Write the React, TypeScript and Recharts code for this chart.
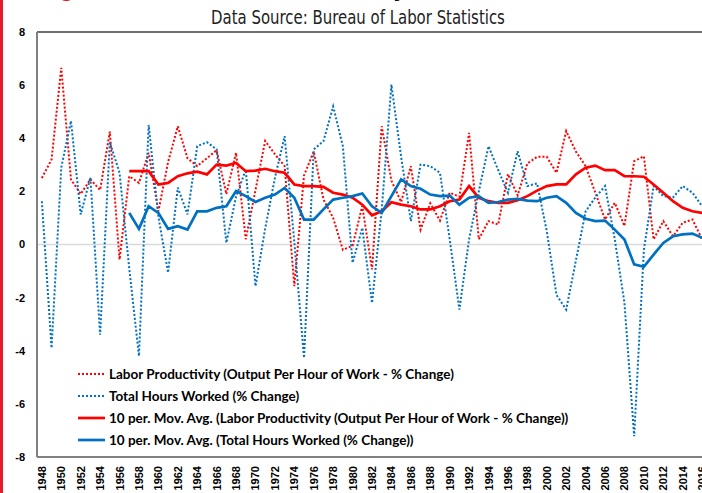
import React from 'react';
import { LineChart, Line, XAxis, YAxis, ReferenceLine, Legend } from 'recharts';

const years = [
  1948, 1949, 1950, 1951, 1952, 1953, 1954, 1955, 1956, 1957,
  1958, 1959, 1960, 1961, 1962, 1963, 1964, 1965, 1966, 1967,
  1968, 1969, 1970, 1971, 1972, 1973, 1974, 1975, 1976, 1977,
  1978, 1979, 1980, 1981, 1982, 1983, 1984, 1985, 1986, 1987,
  1988, 1989, 1990, 1991, 1992, 1993, 1994, 1995, 1996, 1997,
  1998, 1999, 2000, 2001, 2002, 2003, 2004, 2005, 2006, 2007,
  2008, 2009, 2010, 2011, 2012, 2013, 2014, 2015, 2016,
];

const laborProductivity = [
  2.5, 3.2, 6.65, 2.45, 1.9, 2.45, 2.05, 4.25, -0.57, 2.57,
  2.32, 3.45, 1.25, 3.1, 4.45, 3.25, 2.95, 3.25, 3.55, 1.9,
  3.45, 0.2, 2.05, 3.9, 3.4, 2.95, -1.57, 2.6, 3.5, 1.7,
  1.0, -0.2, -0.05, 1.45, -0.94, 4.45, 2.4, 1.6, 2.95, 0.56,
  1.55, 0.9, 1.95, 1.8, 4.2, 0.2, 0.88, 0.75, 2.65, 1.85,
  3.05, 3.3, 3.3, 2.7, 4.27, 3.5, 2.95, 1.95, 0.94, 1.57,
  0.7, 3.14, 3.32, 0.19, 0.88, 0.31, 0.82, 0.94, 0.2,
];

const totalHours = [
  1.63, -3.9, 2.9, 4.65, 1.13, 2.52, -3.4, 3.85, 2.7, -0.9,
  -4.2, 4.5, 1.05, -1.06, 2.14, 1.13, 3.7, 3.85, 3.58, 0.06,
  1.8, 2.82, -1.57, 0.6, 2.5, 4.08, 0.1, -4.27, 3.58, 3.89,
  5.2, 3.7, -0.69, 0.63, -2.2, 1.3, 6.02, 3.3, 0.88, 3.01,
  2.95, 2.7, 0.2, -2.45, 0.2, 2.0, 3.7, 2.8, 1.95, 3.51,
  2.2, 2.3, 0.5, -1.9, -2.45, -0.6, 1.25, 1.77, 2.2, 0.2,
  -2.2, -7.22, -0.2, 2.2, 1.82, 1.77, 2.2, 1.95, 1.44,
];

const laborMA = [
  null, null, null, null, null, null, null, null, null,
  2.76, 2.76, 2.76, 2.26, 2.32, 2.57, 2.68, 2.74, 2.64, 3.01,
  2.97, 3.07, 2.76, 2.78, 2.85, 2.76, 2.7, 2.26, 2.2, 2.2,
  2.17, 1.95, 1.88, 1.76, 1.5, 1.1, 1.25, 1.59, 1.5, 1.44,
  1.32, 1.32, 1.44, 1.63, 1.69, 2.2, 1.76, 1.63, 1.57, 1.57,
  1.67, 1.82, 2.03, 2.2, 2.26, 2.26, 2.64, 2.89, 2.97, 2.8,
  2.8, 2.57, 2.57, 2.55, 2.26, 1.95, 1.63, 1.38, 1.25, 1.19,
];

const hoursMA = [
  null, null, null, null, null, null, null, null, null,
  1.19, 0.59, 1.44, 1.19, 0.59, 0.69, 0.56, 1.25, 1.25, 1.38,
  1.44, 2.01, 1.82, 1.6, 1.76, 1.88, 2.13, 1.76, 0.94, 0.94,
  1.32, 1.69, 1.76, 1.82, 1.92, 1.44, 1.19, 1.82, 2.45, 2.2,
  2.1, 1.88, 1.82, 1.84, 1.5, 1.76, 1.82, 1.57, 1.6, 1.69,
  1.72, 1.65, 1.63, 1.76, 1.82, 1.57, 1.19, 0.97, 0.88, 0.9,
  0.56, 0.19, -0.75, -0.84, -0.38, 0.06, 0.31, 0.38, 0.41, 0.25,
];

const yTicks = [-8, -6, -4, -2, 0, 2, 4, 6, 8];
const xTicks = [
  1948, 1950, 1952, 1954, 1956, 1958, 1960, 1962, 1964, 1966, 1968, 1970,
  1972, 1974, 1976, 1978, 1980, 1982, 1984, 1986, 1988, 1990, 1992, 1994,
  1996, 1998, 2000, 2002, 2004, 2006, 2008, 2010, 2012, 2014, 2016,
];

const seriesNames = [
  'Labor Productivity (Output Per Hour of Work - % Change)',
  'Total Hours Worked (% Change)',
  '10 per. Mov. Avg. (Labor Productivity (Output Per Hour of Work - % Change))',
  '10 per. Mov. Avg. (Total Hours Worked (% Change))',
];

const RED = '#ff0000';
const BLUE = '#0070c0';
const DOT = '2 2';

const data = years.map((year, i) => ({
  year,
  lp: laborProductivity[i],
  th: totalHours[i],
  lpMA: laborMA[i],
  thMA: hoursMA[i],
}));

const legendStyles = [
  { color: RED, dash: DOT, width: 2 },
  { color: BLUE, dash: DOT, width: 2 },
  { color: RED, dash: undefined, width: 2.7 },
  { color: BLUE, dash: undefined, width: 2.7 },
];

const LegendBox = () => (
  <div style={{ fontFamily: 'Lato, "Open Sans", sans-serif', fontWeight: 700, fontSize: 13.5, color: '#000', textAlign: 'left' }}>
    {seriesNames.map((name, i) => (
      <div key={name} style={{ display: 'flex', alignItems: 'center', height: 22, whiteSpace: 'nowrap' }}>
        <svg width={31} height={6} style={{ display: 'block' }}>
          <line x1={0} y1={3} x2={27} y2={3} stroke={legendStyles[i].color}
            strokeWidth={legendStyles[i].width} strokeDasharray={legendStyles[i].dash} />
        </svg>
        <span>{name}</span>
      </div>
    ))}
  </div>
);

const XTick = (props: any) => {
  const { x, y, payload } = props;
  return (
    <text x={x} y={y} transform={`rotate(-90 ${x} ${y})`} textAnchor="end" dominantBaseline="central"
      fontFamily="'Liberation Sans', Arial, sans-serif" fontWeight={700} fontSize={11} fill="#000">
      {payload.value}
    </text>
  );
};

export default function App() {
  return (
    <div style={{ position: 'absolute', left: 0, top: 0, width: 702, height: 493, overflow: 'hidden', background: '#fff' }}>
      <div style={{ position: 'absolute', left: 0, top: 0, width: 3, height: 493, background: '#e31b2b', zIndex: 2 }} />
      <div style={{ position: 'absolute', left: 40, top: -24, whiteSpace: 'nowrap', fontFamily: '"DejaVu Sans Condensed", "Liberation Sans", sans-serif', fontWeight: 700, fontSize: 22, lineHeight: '28px', color: '#000' }}>
        <span style={{ color: '#e31b2b' }}>Figure 1:</span> U.S. Labor Productivity and Hours Worked (%)
      </div>
      <div style={{ position: 'absolute', left: 0, width: 716, top: 5, textAlign: 'center', fontFamily: '"DejaVu Sans Condensed", sans-serif', fontSize: 20, lineHeight: '24px', color: '#222', transform: 'scaleX(0.83)', transformOrigin: '358px 0' }}>
        Data Source: Bureau of Labor Statistics
      </div>
      <div style={{ position: 'absolute', left: 0, top: 0 }}>
        <LineChart width={712} height={493} data={data} margin={{ top: 32, right: 5, bottom: 0, left: 0 }}>
          <XAxis dataKey="year" type="number" domain={[1947.5, 2016.5]} ticks={xTicks} interval={0}
            tickSize={0} tickMargin={9} height={36} tick={<XTick />}
            axisLine={{ stroke: '#808080', strokeWidth: 2 }} allowDataOverflow />
          <YAxis type="number" domain={[-8, 8]} ticks={yTicks} interval={0} width={37}
            tickSize={0} tickMargin={12}
            tick={{ fontFamily: "'Liberation Sans', Arial, sans-serif", fontWeight: 700, fontSize: 11, fill: '#000' }}
            axisLine={{ stroke: '#808080', strokeWidth: 2 }} />
          <ReferenceLine y={8} stroke="#404040" strokeWidth={1.5} />
          <ReferenceLine y={0} stroke="#d9d9d9" strokeWidth={1.5} />
          <Line dataKey="lp" name={seriesNames[0]} stroke={RED} strokeWidth={2} strokeDasharray={DOT}
            dot={false} isAnimationActive={false} />
          <Line dataKey="th" name={seriesNames[1]} stroke={BLUE} strokeWidth={2} strokeDasharray={DOT}
            dot={false} isAnimationActive={false} />
          <Line dataKey="lpMA" name={seriesNames[2]} stroke={RED} strokeWidth={2.7}
            dot={false} isAnimationActive={false} />
          <Line dataKey="thMA" name={seriesNames[3]} stroke={BLUE} strokeWidth={2.7}
            dot={false} isAnimationActive={false} />
          <Legend content={<LegendBox />} layout="horizontal" verticalAlign="middle" align="center"
            wrapperStyle={{ position: 'absolute', left: 78, top: 363, width: 560, height: 88 }} />
        </LineChart>
      </div>
    </div>
  );
}
